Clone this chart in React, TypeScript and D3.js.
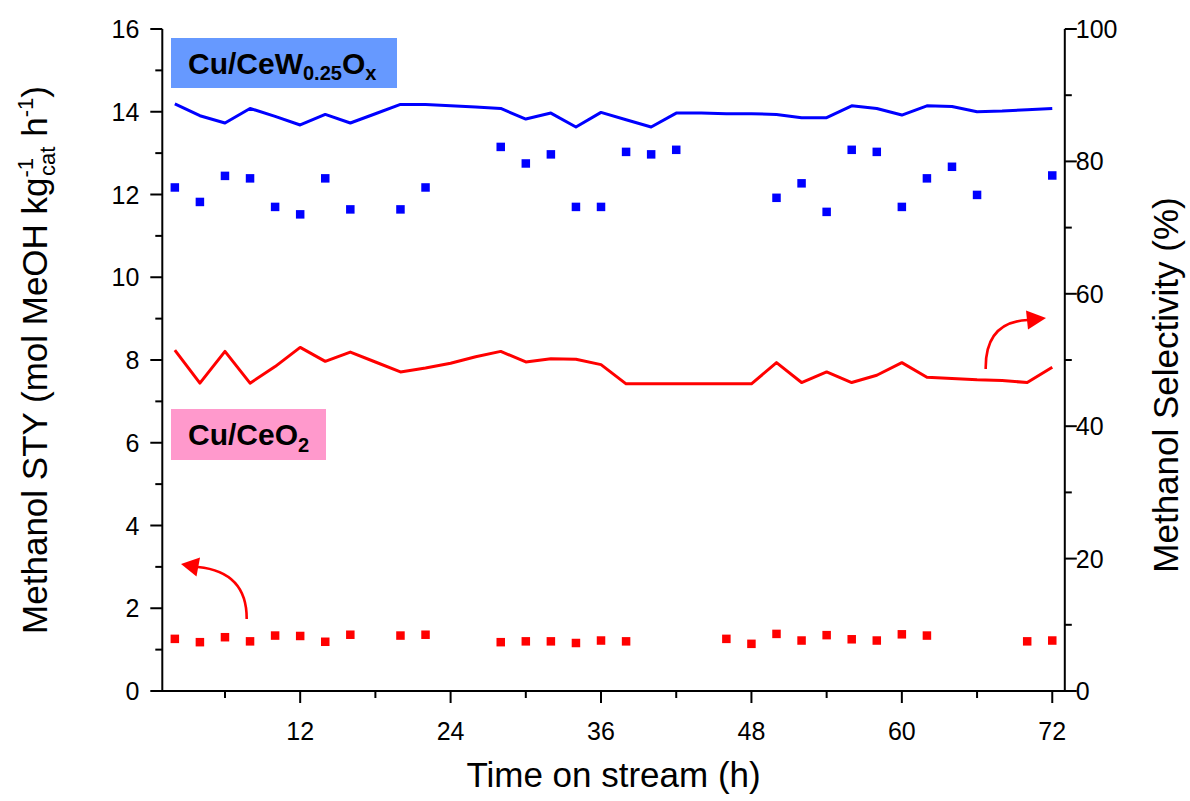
import React from "react";
import * as d3 from "d3";

// ---- data ----
const lineTimes = [2,4,6,8,10,12,14,16,18,20,22,24,26,28,30,32,34,36,38,40,42,44,46,48,50,52,54,56,58,60,62,64,66,68,70,72];
const selW = [88.7,86.9,85.8,88.0,86.8,85.5,87.1,85.8,87.2,88.6,88.6,88.4,88.2,88.0,86.4,87.3,85.2,87.4,86.3,85.2,87.3,87.3,87.2,87.2,87.1,86.6,86.6,88.4,88.0,87.0,88.4,88.3,87.5,87.6,87.8,88.0];
const selCe = [51.5,46.5,51.3,46.5,49.0,51.9,49.8,51.2,49.7,48.2,48.8,49.5,50.5,51.3,49.7,50.2,50.1,49.3,46.4,46.4,46.4,46.4,46.4,46.4,49.6,46.6,48.2,46.6,47.7,49.6,47.4,47.2,47.0,46.9,46.6,48.9];

const styWTimes = [2,4,6,8,10,12,14,16,20,22,28,30,32,34,36,38,40,42,50,52,54,56,58,60,62,64,66,72];
const styW = [12.17,11.82,12.45,12.39,11.70,11.52,12.39,11.64,11.64,12.17,13.15,12.75,12.97,11.70,11.70,13.03,12.97,13.08,11.92,12.27,11.58,13.08,13.03,11.70,12.39,12.67,11.99,12.46];

const styCeTimes = [2,4,6,8,10,12,14,16,20,22,28,30,32,34,36,38,46,48,50,52,54,56,58,60,62,70,72];
const styCe = [1.26,1.18,1.30,1.20,1.34,1.33,1.19,1.36,1.34,1.36,1.18,1.20,1.20,1.16,1.22,1.20,1.26,1.14,1.38,1.22,1.35,1.25,1.22,1.37,1.34,1.20,1.22];

const xMajor = [12,24,36,48,60,72];
const xMinor = [6,18,30,42,54,66];
const yLeftMajor = [0,2,4,6,8,10,12,14,16];
const yLeftMinor = [1,3,5,7,9,11,13,15];
const yRightMajor = [0,20,40,60,80,100];
const yRightMinor = [10,30,50,70,90];

const FONT = "'Liberation Sans', Arial, sans-serif";

export default function App() {
  const W = 1190, H = 801;
  const x = d3.scaleLinear().domain([1, 73]).range([162.3, 1064.8]);
  const yL = d3.scaleLinear().domain([0, 16]).range([691, 29]);
  const yR = d3.scaleLinear().domain([0, 100]).range([691, 29]);
  const line = (vals: number[]) =>
    d3.line<number>().x((_, i) => x(lineTimes[i])).y((v) => yR(v))(vals) || "";

  const x0 = x(1), x1 = x(73), yb = yL(0), yt = yL(16);
  const ms = 8.5;

  return (
    <div style={{ position: "fixed", left: 0, top: 0, background: "#fff" }}>
      <svg width={W} height={H} viewBox={`0 0 ${W} ${H}`} style={{ display: "block" }} fontFamily={FONT}>
        <rect x={0} y={0} width={W} height={H} fill="#fff" />
        {/* label boxes */}
        <rect x={171} y={38} width={226} height={50} fill="#6699ff" />
        <text x={188} y={74} fontSize={30} fontWeight="bold" fill="#000">
          Cu/CeW<tspan fontSize={20} dy={6}>0.25</tspan><tspan dy={-6}>O</tspan><tspan fontSize={20} dy={6}>x</tspan>
        </text>
        <rect x={171} y={409} width={155} height={51} fill="#ff99cc" />
        <text x={188} y={445} fontSize={30} fontWeight="bold" fill="#000">
          Cu/CeO<tspan fontSize={20} dy={7}>2</tspan>
        </text>

        {/* lines */}
        <path d={line(selW)} fill="none" stroke="#0000ff" strokeWidth={3} strokeLinejoin="round" />
        <path d={line(selCe)} fill="none" stroke="#ff0000" strokeWidth={3} strokeLinejoin="round" />

        {/* markers */}
        {styW.map((v, i) => (
          <rect key={"b" + i} x={x(styWTimes[i]) - ms / 2} y={yL(v) - ms / 2} width={ms} height={ms} fill="#0000ff" />
        ))}
        {styCe.map((v, i) => (
          <rect key={"r" + i} x={x(styCeTimes[i]) - ms / 2} y={yL(v) - ms / 2} width={ms} height={ms} fill="#ff0000" />
        ))}

        {/* arrows */}
        <path d="M985.7,369 Q985,322 1028,320" fill="none" stroke="#ff0000" strokeWidth={2.6} />
        <polygon points="1046,318 1026,310.5 1028,329.5" fill="#ff0000" />
        <path d="M246.7,619 Q247,572 198,567" fill="none" stroke="#ff0000" strokeWidth={2.6} />
        <polygon points="181,564 200,557.5 196.5,576.5" fill="#ff0000" />

        {/* axes */}
        <g stroke="#000" strokeWidth={2} fill="none">
          <line x1={x0} y1={yt} x2={x0} y2={yb + 1} />
          <line x1={x1} y1={yt} x2={x1} y2={yb + 1} />
          <line x1={x0 - 1} y1={yb} x2={x1 + 10} y2={yb} />
          {xMajor.map((t) => <line key={"xm" + t} x1={x(t)} x2={x(t)} y1={yb} y2={yb + 12} />)}
          {xMinor.map((t) => <line key={"xn" + t} x1={x(t)} x2={x(t)} y1={yb} y2={yb + 7} />)}
          {yLeftMajor.map((t) => <line key={"lm" + t} x1={x0} x2={x0 - 12} y1={yL(t)} y2={yL(t)} />)}
          {yLeftMinor.map((t) => <line key={"ln" + t} x1={x0} x2={x0 - 7} y1={yL(t)} y2={yL(t)} />)}
          {yRightMajor.map((t) => <line key={"rm" + t} x1={x1} x2={x1 + 12} y1={yR(t)} y2={yR(t)} />)}
          {yRightMinor.map((t) => <line key={"rn" + t} x1={x1} x2={x1 + 7} y1={yR(t)} y2={yR(t)} />)}
        </g>
        <g fontSize={25} fill="#000">
          {xMajor.map((t) => (
            <text key={"xl" + t} x={x(t)} y={yb + 49} textAnchor="middle">{t}</text>
          ))}
          {yLeftMajor.map((t) => (
            <text key={"ll" + t} x={x0 - 23} y={yL(t) + 9} textAnchor="end">{t}</text>
          ))}
          {yRightMajor.map((t) => (
            <text key={"rl" + t} x={x1 + 11} y={yR(t) + 9} textAnchor="start">{t}</text>
          ))}
        </g>
        {/* titles */}
        <text x={(x0 + x1) / 2} y={787} fontSize={35} textAnchor="middle" fill="#000">Time on stream (h)</text>
        <text transform="translate(47,360) rotate(-90)" fontSize={35} textAnchor="middle" fill="#000">
          Methanol STY (mol MeOH kg<tspan fontSize={22} dy={-14}>-1</tspan><tspan fontSize={22} dx={-18} dy={22}>cat</tspan><tspan dy={-8}> h</tspan><tspan fontSize={22} dy={-14}>-1</tspan><tspan dy={14}>)</tspan>
        </text>
        <text transform="translate(1178,385) rotate(-90)" fontSize={35} textAnchor="middle" fill="#000">Methanol Selectivity (%)</text>
      </svg>
    </div>
  );
}
